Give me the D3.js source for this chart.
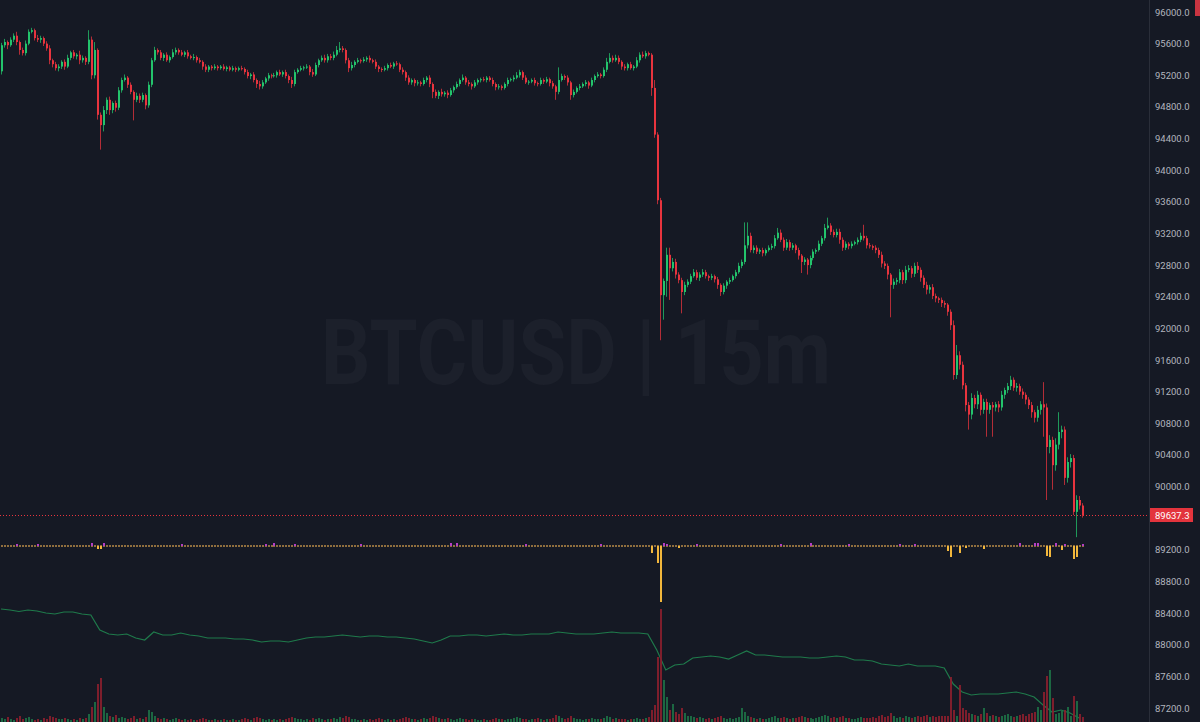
<!DOCTYPE html>
<html lang="en">
<head>
<meta charset="UTF-8">
<title>BTCUSD 15m</title>
<style>
  html, body { margin: 0; padding: 0; background: #151924; overflow: hidden; }
  svg { display: block; }
  .tick-label { font-family: Roboto, sans-serif; font-size: 9.5px; fill: #b2b5be; }
</style>
</head>
<body>
<svg width="1200" height="722"></svg>
<script src="https://d3js.org/d3.v7.min.js"></script>
<script>
const symbol = "BTCUSD";
const interval = "15m";
const firstOpen = 95250;
const lastPrice = 89637.3;

// close of each 15m candle
const closes = [
  95580,95620,95580,95650,95700,95620,95520,95480,95600,95750,
  95770,95670,95650,95670,95600,95540,95390,95340,95290,95310,
  95370,95310,95420,95490,95440,95460,95390,95420,95370,95650,
  95200,95520,94700,94570,94760,94890,94760,94850,94790,95010,
  95140,95170,95080,94990,94890,94940,94890,94950,94820,95080,
  95390,95520,95490,95420,95460,95390,95430,95490,95520,95490,
  95460,95490,95440,95420,95430,95390,95370,95310,95270,95310,
  95290,95310,95290,95310,95280,95300,95270,95290,95270,95290,
  95280,95240,95190,95210,95140,95090,95060,95110,95160,95200,
  95190,95200,95240,95210,95240,95190,95140,95090,95240,95270,
  95290,95300,95310,95240,95210,95330,95390,95420,95390,95440,
  95420,95460,95520,95540,95520,95390,95290,95330,95370,95390,
  95380,95400,95420,95390,95370,95310,95280,95270,95290,95330,
  95310,95350,95340,95270,95240,95170,95110,95140,95100,95110,
  95090,95140,95170,95090,94990,94940,94990,94960,94980,94950,
  95010,95050,95090,95140,95170,95110,95090,95060,95110,95140,
  95150,95140,95170,95140,95090,95050,95060,95040,95090,95140,
  95150,95170,95200,95240,95170,95110,95120,95140,95100,95090,
  95140,95120,95150,95100,95060,94990,95140,95190,95170,95110,
  94950,94990,95040,95060,95090,95110,95070,95140,95190,95210,
  95190,95270,95370,95420,95390,95420,95370,95310,95290,95340,
  95290,95310,95390,95460,95440,95480,95460,95040,94450,93620,
  92420,92600,92930,92760,92840,92680,92610,92460,92550,92590,
  92660,92710,92640,92680,92710,92660,92640,92660,92620,92550,
  92460,92540,92590,92610,92660,92710,92790,92840,93050,93170,
  92990,93020,92970,92990,92950,92990,93020,93040,93140,93210,
  93120,93020,93090,93020,93050,92990,92920,92840,92870,92800,
  92890,92970,92990,93070,93140,93270,93300,93220,93180,93220,
  93120,93020,93070,93040,93070,93090,93120,93170,93140,93050,
  93040,93020,92990,92930,92820,92790,92680,92550,92590,92610,
  92710,92610,92740,92760,92690,92790,92740,92640,92550,92490,
  92520,92410,92380,92360,92320,92300,92210,92040,91410,91660,
  91540,91280,91030,90910,91120,91040,91160,90970,91070,90970,
  91030,91000,91040,91000,91160,91220,91270,91350,91250,91270,
  91200,91160,91100,91030,90940,90870,90970,91040,91000,90500,
  90590,90270,90530,90690,90720,90110,90310,90360,89680,89830,
  89760,89637.3
];

// wick beyond the body, in tens of dollars
const wickUp = [
  3,4,2,3,3,5,2,3,4,3, 3,2,4,3,2,3,4,2,3,3, 2,3,4,2,3,2,5,3,2,12,
  4,10,2,3,5,3,4,2,3,4, 3,4,2,3,2,4,3,3,2,4, 3,4,2,3,2,3,2,4,3,2,
  3,2,3,2,4,2,3,2,3,2, 2,3,2,2,3,2,2,3,2,2, 3,2,3,2,3,2,4,3,2,3,
  2,3,2,3,2,3,2,4,3,2, 3,2,3,2,4,3,2,3,4,3, 3,4,5,8,3,2,3,4,2,3,
  2,3,2,3,2,3,2,2,3,2, 3,2,3,2,3,2,3,2,2,3, 2,3,2,3,2,3,2,4,2,3,
  3,2,3,2,4,2,3,2,3,2, 2,3,2,2,3,2,3,2,2,3, 2,3,4,3,2,3,2,2,3,2,
  3,2,3,2,3,2,16,3,2,3, 2,3,2,3,2,3,2,3,2,3, 2,3,5,6,3,4,3,2,3,2,
  3,2,4,3,4,3,2,2,10,3, 3,3,9,9,5,4,3,3,4,3, 3,4,3,3,4,3,2,3,2,3,
  2,3,2,3,2,3,4,3,29,17, 4,3,3,2,3,2,3,3,4,6, 4,3,4,3,3,2,3,2,3,2,
  3,3,2,4,3,5,10,3,3,4, 4,3,3,2,3,2,3,4,14,3, 3,2,3,3,4,3,3,2,4,3,
  4,3,5,4,3,4,5,3,3,4, 3,4,3,2,3,3,2,3,6,13, 5,4,3,4,6,4,5,3,4,4,
  3,4,3,4,5,3,4,5,3,4, 3,4,3,3,4,3,5,4,28,5, 6,4,8,25,5,4,6,5,4,6,
  5,3
];
const wickDn = [
  4,3,5,2,3,4,6,3,3,2, 2,3,3,4,3,3,5,4,3,4, 3,4,2,3,3,4,5,3,4,3,
  5,4,6,31,8,5,6,4,5,3, 3,2,4,3,26,3,4,3,5,3, 3,2,3,3,4,2,3,2,3,3,
  2,3,3,2,3,3,2,4,3,3, 3,2,3,2,2,3,2,2,3,2, 2,3,3,4,3,5,4,3,2,3,
  3,2,3,2,3,3,4,5,3,2, 2,3,2,4,3,2,3,2,3,3, 3,3,2,3,3,4,5,3,3,2,
  3,2,3,3,2,3,4,3,2,3, 2,3,2,3,3,4,3,3,4,3, 3,2,3,4,8,3,4,3,3,4,
  2,3,2,3,2,3,3,4,2,3, 3,2,3,2,3,4,3,3,2,3, 2,3,2,3,3,2,3,2,3,3,
  2,3,2,4,3,10,3,2,3,4, 6,3,2,3,2,3,4,2,3,2, 3,2,3,2,3,2,3,4,3,3,
  2,3,2,3,2,3,2,10,4,5, 57,31,20,40,4,5,4,27,4,3, 3,2,3,4,3,3,4,3,4,5,
  5,3,4,3,2,3,2,3,3,4, 3,4,3,3,4,3,2,3,3,2, 3,4,3,4,3,4,5,14,4,12,
  4,3,3,2,3,3,2,4,3,3, 5,4,3,4,3,2,3,3,3,4, 3,3,4,4,5,4,6,41,5,4,
  4,5,4,3,5,4,4,5,4,6, 5,4,5,4,5,4,5,6,6,5, 6,5,8,19,6,5,6,7,5,34,
  5,37,5,6,4,5,4,5,4,5, 4,5,6,5,7,6,5,6,37,67, 8,31,7,6,8,9,6,7,4,32,
  5,3
];

const volume = [
  40,30,50,30,20,40,60,30,40,50, 30,20,30,20,40,30,60,50,40,30, 30,40,30,20,30,20,40,30,40,80,
  150,200,380,440,150,90,60,50,70,40, 50,40,30,40,60,30,40,30,50,120, 100,60,40,30,40,30,20,30,40,30,
  20,30,20,30,20,20,30,40,30,20, 20,30,20,20,30,20,20,30,20,20, 30,40,30,20,40,50,40,30,20,30,
  20,30,20,30,20,30,40,50,40,30, 30,20,30,20,40,30,40,30,20,30, 30,40,30,50,40,60,50,30,30,20,
  20,30,20,30,20,30,40,30,20,30, 20,30,20,30,40,50,40,30,30,20, 30,40,30,40,60,50,40,30,30,40,
  30,20,30,40,30,30,20,30,30,20, 20,30,20,20,30,40,30,30,20,30, 30,40,50,40,30,30,20,30,30,40,
  30,20,30,30,40,70,60,40,30,40, 60,40,30,30,20,30,30,40,30,30, 30,40,60,50,30,40,30,30,30,20,
  30,30,40,30,30,40,50,120,170,650, 1130,420,250,120,180,100,80,140,90,60, 60,50,40,50,40,30,40,30,40,50,
  60,40,30,40,30,40,50,140,100,60, 50,40,30,40,30,30,40,50,60,40, 40,50,40,30,40,40,50,60,50,40,
  40,30,40,50,60,70,60,40,50,40, 50,60,40,40,30,30,40,50,40,40, 40,50,40,60,70,50,60,90,60,40,
  50,40,60,50,40,50,60,50,60,70, 50,60,50,60,60,60,60,450,120,60, 370,140,120,90,80,70,60,80,140,90,
  60,70,60,50,60,70,80,60,50,60, 70,80,60,80,90,100,150,120,300,460, 520,240,80,90,110,120,150,60,260,210,
  80,50
];

// open interest line, one point every 3 candles
const oiStep = 3;
const openInterest = [
  111,110,108.5,110,109,107,106,108,108,106, 105,90,86,85,86,82,80,88,85,85,
  87,85,84,82,82,82,81,81,80,78, 79,79,78,80,82,83,83,84,85,84,
  83,84,84,83,83,82,81,79,77,80, 84,84,85,85,84,85,86,85,85,86,
  86,86,88,87,86,86,86,87,88,87, 87,87,86,70,50,55,56,62,63,64,
  63,61,65,69,65,65,64,63,63,63, 62,62,63,64,63,60,60,59,56,55,
  54,56,54,54,54,52,36,28,25,26, 26,26,27,28,26,23,15,8,10,7,
  2
];

// liquidation bars (below the zero line) and small flow bars (above)
const liqIdx = [32, 33, 217, 219, 220, 226, 316, 317, 320, 322, 328, 349, 350, 354, 358, 359];
const liqVal = [-3, -3, -7, -17, -56, -2, -5, -11, -7, -2, -3, -10, -11, -4, -13, -11];
const flowIdx = [5, 12, 30, 34, 60, 88, 91, 98, 120, 150, 152, 175, 200, 221, 222, 232, 260, 270, 283, 300, 305, 340, 345, 346, 352, 355, 361];
const flowVal = [1, 1, 2, 2, 1, 1, 2, 1, 1, 2, 2, 1, 1, 2, 1, 1, 1, 2, 1, 1, 1, 2, 2, 2, 2, 1, 1];

const priceTicks = [96000, 95600, 95200, 94800, 94400, 94000, 93600, 93200, 92800, 92400, 92000,
  91600, 91200, 90800, 90400, 90000, 89600, 89200, 88800, 88400, 88000, 87600, 87200];

const width = 1200, height = 722;
const axisX = 1150;
const upColor = "#23c46c", downColor = "#e8343e";
const bg = "#151924";

const svg = d3.select("svg");
svg.append("rect").attr("width", width).attr("height", height).attr("fill", bg);

const candles = closes.map((c, i) => {
  const o = i === 0 ? firstOpen : closes[i - 1];
  return {
    i, o, c,
    h: Math.max(o, c) + wickUp[i] * 10,
    l: Math.min(o, c) - wickDn[i] * 10,
    v: volume[i],
    up: c >= o
  };
});

const x = d3.scaleLinear().domain([0, closes.length - 1]).range([1, 1082]);
const y = d3.scaleLinear().domain([87200, 96000]).range([708, 12]);
const vol = d3.scaleLinear().domain([0, 1130]).range([0, 113]);
const oiY = d3.scaleLinear().domain([0, 120]).range([720, 600]);
const liqY = d3.scaleLinear().domain([0, -60]).range([546, 606]);

// watermark
svg.append("text")
  .attr("x", 576)
  .attr("y", 384)
  .attr("text-anchor", "middle")
  .attr("font-family", "Roboto, sans-serif")
  .attr("font-weight", 700)
  .attr("font-size", 90)
  .attr("textLength", 510)
  .attr("lengthAdjust", "spacingAndGlyphs")
  .attr("fill", "#1c202b")
  .text(`${symbol} | ${interval}`);

// last price line
svg.append("line")
  .attr("x1", 0).attr("x2", axisX)
  .attr("y1", Math.round(y(lastPrice)) + 0.5).attr("y2", Math.round(y(lastPrice)) + 0.5)
  .attr("stroke", downColor)
  .attr("stroke-dasharray", "1,2");

// candles
const cg = svg.append("g");
cg.selectAll("rect.wick")
  .data(candles)
  .join("rect")
  .attr("class", "wick")
  .attr("x", d => Math.round(x(d.i)))
  .attr("width", 1)
  .attr("y", d => y(d.h))
  .attr("height", d => Math.max(1, y(d.l) - y(d.h)))
  .attr("fill", d => d.up ? upColor : downColor)
  .attr("opacity", 0.75);

cg.selectAll("rect.body")
  .data(candles)
  .join("rect")
  .attr("class", "body")
  .attr("x", d => Math.round(x(d.i)))
  .attr("width", 2)
  .attr("y", d => y(Math.max(d.o, d.c)))
  .attr("height", d => Math.max(1, Math.abs(y(d.o) - y(d.c))))
  .attr("fill", d => d.up ? upColor : downColor);

// zero line of the liquidation pane
const zg = svg.append("g");
zg.selectAll("rect")
  .data(candles)
  .join("rect")
  .attr("x", d => Math.round(x(d.i)))
  .attr("y", 545)
  .attr("width", 2)
  .attr("height", 2)
  .attr("fill", "#8f6e3e");

zg.selectAll("rect.flow")
  .data(flowIdx.map((i, k) => ({ i, v: flowVal[k] })))
  .join("rect")
  .attr("class", "flow")
  .attr("x", d => Math.round(x(d.i)))
  .attr("y", d => 546 - d.v - 1)
  .attr("width", 2)
  .attr("height", d => d.v + 1)
  .attr("fill", "#b43fc4");

zg.selectAll("rect.liq")
  .data(liqIdx.map((i, k) => ({ i, v: liqVal[k] })))
  .join("rect")
  .attr("class", "liq")
  .attr("x", d => Math.round(x(d.i)))
  .attr("y", 546)
  .attr("width", 2)
  .attr("height", d => liqY(d.v) - 546)
  .attr("fill", "#f2b73c");

// open interest line
svg.append("path")
  .datum(openInterest)
  .attr("fill", "none")
  .attr("stroke", "#1f7a4b")
  .attr("stroke-width", 1.2)
  .attr("d", d3.line().x((d, k) => x(k * oiStep)).y(d => oiY(d)));

// volume
svg.append("g").selectAll("rect")
  .data(candles)
  .join("rect")
  .attr("x", d => Math.round(x(d.i)))
  .attr("width", 2)
  .attr("y", d => height - vol(d.v))
  .attr("height", d => vol(d.v))
  .attr("fill", d => d.up ? "#1d7046" : "#8a1f2d")
  .attr("opacity", 0.9);

// price axis
svg.append("line")
  .attr("x1", axisX - 0.5).attr("x2", axisX - 0.5)
  .attr("y1", 0).attr("y2", height)
  .attr("stroke", "#2a2e39");

const lastY = y(lastPrice);
svg.append("g").selectAll("text")
  .data(priceTicks.filter(t => Math.abs(y(t) - lastY) > 9))
  .join("text")
  .attr("class", "tick-label")
  .attr("x", 1155)
  .attr("y", d => y(d) + 3.5)
  .text(d => d.toFixed(1));

svg.append("rect")
  .attr("x", axisX).attr("y", Math.round(lastY) - 7)
  .attr("width", 43).attr("height", 14)
  .attr("fill", "#e3343d");
svg.append("text")
  .attr("class", "tick-label")
  .attr("x", 1155)
  .attr("y", lastY + 3.5)
  .attr("fill", "#ffffff")
  .style("fill", "#ffffff")
  .text(lastPrice.toFixed(1));

// partly hidden label at the top right
svg.append("rect")
  .attr("x", 1195).attr("y", 0)
  .attr("width", 5).attr("height", 16)
  .attr("fill", "#c93441");
</script>
</body>
</html>
